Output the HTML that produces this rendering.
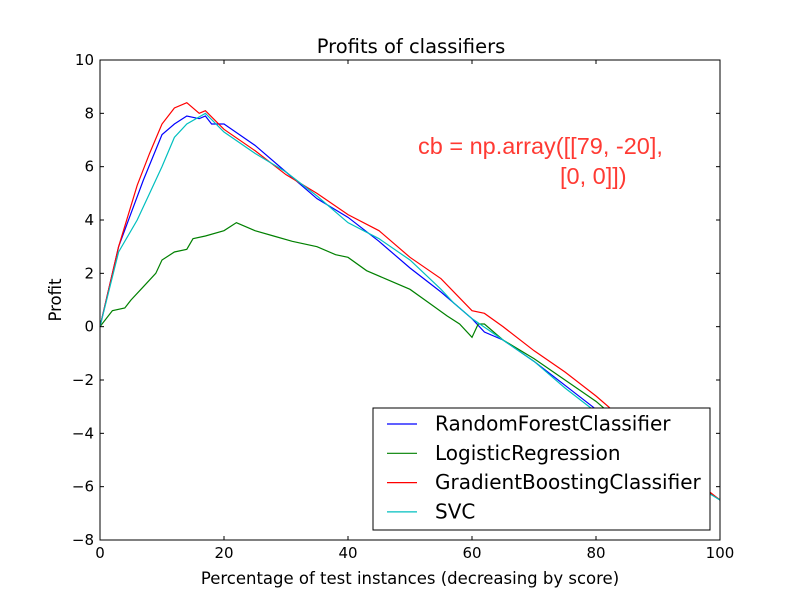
<!DOCTYPE html>
<html><head><meta charset="utf-8"><style>
body{margin:0;background:#fff;}
svg text{font-family:"DejaVu Sans",sans-serif;}
</style></head><body>
<svg id="chart" width="800" height="600" viewBox="0 0 800 600">
<rect x="0" y="0" width="800" height="600" fill="#fff"/>
<g id="plot"></g>
<rect x="100" y="60" width="620" height="480" fill="none" stroke="#000" stroke-width="1"/>
<g id="ticks"></g>
<text x="411" y="53" font-size="19.5" text-anchor="middle">Profits of classifiers</text>
<text x="410" y="584" font-size="16.5" text-anchor="middle">Percentage of test instances (decreasing by score)</text>
<text x="61" y="300" font-size="16.5" text-anchor="middle" transform="rotate(-90 61 300)">Profit</text>
<text x="418" y="154" font-size="23.5" fill="#ff3a33" style="font-family:'Liberation Sans',sans-serif">cb = np.array([[79, -20],</text>
<text x="560" y="184" font-size="23.5" fill="#ff3a33" style="font-family:'Liberation Sans',sans-serif">[0, 0]])</text>
<g>
<rect x="373" y="408" width="337" height="122" fill="#fff" stroke="#000" stroke-width="1"/>
<g id="legend"></g>
</g>
</svg>
<script>
const names=["RandomForestClassifier","LogisticRegression","GradientBoostingClassifier","SVC"];
const colors=["#0000ff","#008000","#ff0000","#00bfbf"];
const xTicks=[0,20,40,60,80,100];
const yTicks=[-8,-6,-4,-2,0,2,4,6,8,10];
const rfX=[0,3,7,10,12,14,16,17,18,20,25,30,35,40,45,50,55,60,62,65,70,75,80,85,90,95,100];
const rfY=[0,3,5.5,7.2,7.6,7.9,7.8,7.9,7.6,7.6,6.8,5.8,4.8,4.1,3.2,2.2,1.3,0.3,-0.2,-0.5,-1.3,-2.2,-3.1,-4.1,-5.0,-5.7,-6.5];
const lrX=[0,2,4,5,7,9,10,12,14,15,17,20,22,25,28,31,35,38,40,43,46,50,53,56,58,60,61,62,65,70,75,80,85,90,95,100];
const lrY=[0,0.6,0.7,1.0,1.5,2.0,2.5,2.8,2.9,3.3,3.4,3.6,3.9,3.6,3.4,3.2,3.0,2.7,2.6,2.1,1.8,1.4,0.9,0.4,0.1,-0.4,0.1,0.1,-0.5,-1.2,-2.0,-2.8,-3.8,-4.8,-5.7,-6.5];
const gbX=[0,3,6,8,10,12,14,16,17,20,25,30,35,40,45,50,55,60,62,65,70,75,80,85,90,95,100];
const gbY=[0,3,5.3,6.5,7.6,8.2,8.4,8.0,8.1,7.4,6.6,5.7,5.0,4.2,3.6,2.6,1.8,0.6,0.5,0,-0.9,-1.7,-2.6,-3.6,-4.6,-5.6,-6.5];
const svX=[0,3,6,8,10,12,14,17,20,25,30,35,40,45,50,55,57,60,65,70,75,80,85,90,95,100];
const svY=[0,2.8,4.0,5.0,6.0,7.1,7.6,8.0,7.3,6.5,5.8,4.9,3.9,3.3,2.5,1.4,0.9,0.3,-0.5,-1.3,-2.3,-3.2,-4.1,-5.0,-5.8,-6.5];
const series=[[rfX,rfY],[lrX,lrY],[gbX,gbY],[svX,svY]];
const sx=v=>100+v*6.2;
const sy=v=>540-(v+8)*480/18;
const NS="http://www.w3.org/2000/svg";
const plot=document.getElementById('plot');
series.forEach((s,i)=>{
  const p=document.createElementNS(NS,'polyline');
  p.setAttribute('points',s[0].map((x,j)=>sx(x)+','+sy(s[1][j])).join(' '));
  p.setAttribute('fill','none');p.setAttribute('stroke',colors[i]);p.setAttribute('stroke-width','1.2');
  
  
  plot.appendChild(p);
});
const tk=document.getElementById('ticks');
xTicks.forEach(v=>{
  const x=sx(v);
  [[540,-4],[60,4]].forEach(([y,d])=>{const l=document.createElementNS(NS,'line');l.setAttribute('x1',x);l.setAttribute('x2',x);l.setAttribute('y1',y);l.setAttribute('y2',y+d);l.setAttribute('stroke','#000');
  
  
  tk.appendChild(l);});
  const t=document.createElementNS(NS,'text');t.setAttribute('x',x);t.setAttribute('y',558);t.setAttribute('font-size','15');t.setAttribute('text-anchor','middle');t.textContent=v;
  
  
  tk.appendChild(t);
});
yTicks.forEach(v=>{
  const y=sy(v);
  [[100,4],[720,-4]].forEach(([x,d])=>{const l=document.createElementNS(NS,'line');l.setAttribute('x1',x);l.setAttribute('x2',x+d);l.setAttribute('y1',y);l.setAttribute('y2',y);l.setAttribute('stroke','#000');
  
  
  tk.appendChild(l);});
  const t=document.createElementNS(NS,'text');t.setAttribute('x',94);t.setAttribute('y',y+5);t.setAttribute('font-size','15');t.setAttribute('text-anchor','end');t.textContent=v<0?'\u2212'+(-v):v;
  
  
  tk.appendChild(t);
});
const lg=document.getElementById('legend');
names.forEach((n,i)=>{
  const y=424+i*29.3;
  const l=document.createElementNS(NS,'line');l.setAttribute('x1',387);l.setAttribute('x2',417);l.setAttribute('y1',y);l.setAttribute('y2',y);l.setAttribute('stroke',colors[i]);l.setAttribute('stroke-width','1.2');
  
  
  lg.appendChild(l);
  const t=document.createElementNS(NS,'text');t.setAttribute('x',435);t.setAttribute('y',y+6.5);t.setAttribute('font-size','20');t.textContent=n;
  
  
  lg.appendChild(t);
});
</script>
</body></html>
